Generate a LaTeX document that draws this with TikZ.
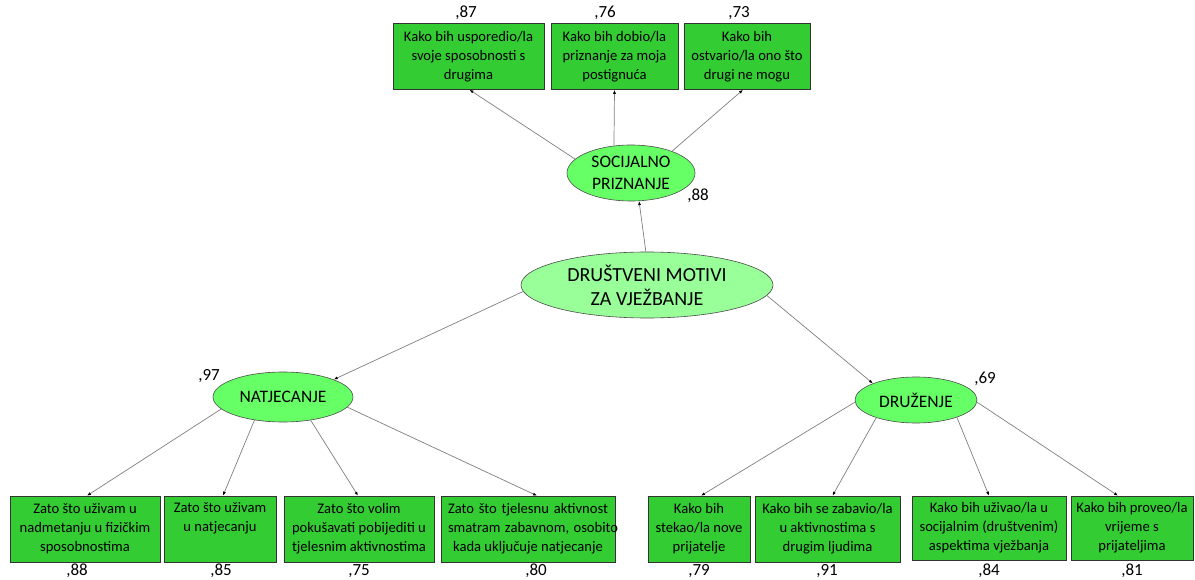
\documentclass[tikz,border=0pt]{standalone}
\usepackage{fontspec}
\setmainfont{Carlito}
\usetikzlibrary{shapes.geometric,arrows.meta}
\definecolor{boxgreen}{RGB}{51,204,51}
\definecolor{ellgreen}{RGB}{102,255,102}
\definecolor{cengreen}{RGB}{153,255,153}
\definecolor{linegray}{RGB}{128,128,128}
\tikzset{
  itembox/.style={draw=black!80, line width=0.6pt, fill=boxgreen, rectangle, inner sep=0pt,
    minimum height=66pt, align=center, font=\fontsize{14.6}{19}\selectfont},
  factor/.style={draw=black!70, line width=0.6pt, fill=ellgreen, ellipse, inner sep=0pt,
    align=center, font=\fontsize{17.5}{22}\selectfont},
  loadlbl/.style={inner sep=0pt, font=\fontsize{17}{20}\selectfont},
  arr/.style={draw=linegray, line width=0.7pt, -{Latex[length=4pt,width=3pt,black]}}
}
\begin{document}
\begin{tikzpicture}[x=1pt,y=-1pt]
\path[use as bounding box, fill=white] (0,0) rectangle (1195,580);

% top boxes
\node[itembox, minimum width=151pt] (t1) at (468.5,56.5) {Kako bih usporedio/la\\svoje sposobnosti s\\drugima};
\node[itembox, minimum width=127pt] (t2) at (614.5,56.5) {Kako bih dobio/la\\priznanje za moja\\postignuća};
\node[itembox, minimum width=126pt] (t3) at (747,56.5) {Kako bih\\ostvario/la ono što\\drugi ne mogu};
\node[loadlbl] (l87) at (466,13) {,87};
\node[loadlbl] (l76) at (605,13) {,76};
\node[loadlbl] (l73) at (739,13) {,73};

% ellipses
\node[factor, minimum width=128pt, minimum height=56pt] (soc) at (631,173) {SOCIJALNO\\PRIZNANJE};
\node[loadlbl] (l88s) at (698,196) {,88};
\node[factor, fill=cengreen, minimum width=252pt, minimum height=66pt, font=\fontsize{20}{24}\selectfont] (cen) at (647,285) {DRUŠTVENI MOTIVI\\ZA VJEŽBANJE};
\node[factor, minimum width=140pt, minimum height=50pt] (nat) at (283,397) {NATJECANJE};
\node[loadlbl] (l97) at (209,376) {,97};
\node[factor, minimum width=122pt, minimum height=46pt] (dru) at (916,400) {DRUŽENJE};
\node[loadlbl] (l69) at (985,379) {,69};

% bottom boxes
\node[itembox, minimum width=150pt] (b1) at (85,529) {Zato što uživam u\\nadmetanju u fizičkim\\sposobnostima};
\node[itembox, minimum width=112pt] (b2) at (220,529) {Zato što uživam\\u natjecanju\\\strut};
\node[itembox, minimum width=150pt] (b3) at (359,529) {Zato što volim\\pokušavati pobijediti u\\tjelesnim aktivnostima};
\node[itembox, minimum width=174pt] (b4) at (528,529) {\makebox[160pt][s]{Zato\ \ što\ \ tjelesnu\ \ aktivnost}\\\makebox[160pt][s]{smatram\ \ zabavnom,\ \ osobito}\\kada uključuje natjecanje};
\node[itembox, minimum width=102pt] (b5) at (699,529) {Kako bih\\stekao/la nove\\prijatelje};
\node[itembox, minimum width=145pt] (b6) at (827.5,529) {Kako bih se zabavio/la\\u aktivnostima s\\drugim ljudima};
\node[itembox, minimum width=154pt, minimum height=64pt] (b7) at (989,528) {Kako bih uživao/la u\\socijalnim (društvenim)\\aspektima vježbanja};
\node[itembox, minimum width=122pt, minimum height=64pt] (b8) at (1132,528) {Kako bih proveo/la\\vrijeme s\\prijateljima};

\node[loadlbl] (lb1) at (77,571) {,88};
\node[loadlbl] (lb2) at (221,571) {,85};
\node[loadlbl] (lb3) at (359,571) {,75};
\node[loadlbl] (lb4) at (536,571) {,80};
\node[loadlbl] (lb5) at (699,571) {,79};
\node[loadlbl] (lb6) at (827,571) {,91};
\node[loadlbl] (lb7) at (989,571) {,84};
\node[loadlbl] (lb8) at (1132,571) {,81};

% connectors
\draw[arr] (soc.166) -- ([xshift=1pt]t1.south);
\draw[arr] (soc.122) -- (t2.south);
\draw[arr] (soc.28) -- ([xshift=-4pt]t3.south);
\draw[arr] (cen.92) -- (soc.286);
\draw[arr] (cen.183) -- (nat.19);
\draw[arr] (cen.355) -- (dru.159);
\draw[arr] (nat.191) -- ([xshift=2pt]b1.north);
\draw[arr] (nat.219) -- ([xshift=3pt]b2.north);
\draw[arr] (nat.320) -- ([xshift=-1pt]b3.north);
\draw[arr] (nat.351) -- ([xshift=9pt]b4.north);
\draw[arr] (dru.182) -- ([xshift=2pt]b5.north);
\draw[arr] (dru.204) -- ([xshift=5pt]b6.north);
\draw[arr] (dru.337) -- (b7.north);
\draw[arr] (dru.358) -- ([xshift=-14pt]b8.north);
\end{tikzpicture}
\end{document}
